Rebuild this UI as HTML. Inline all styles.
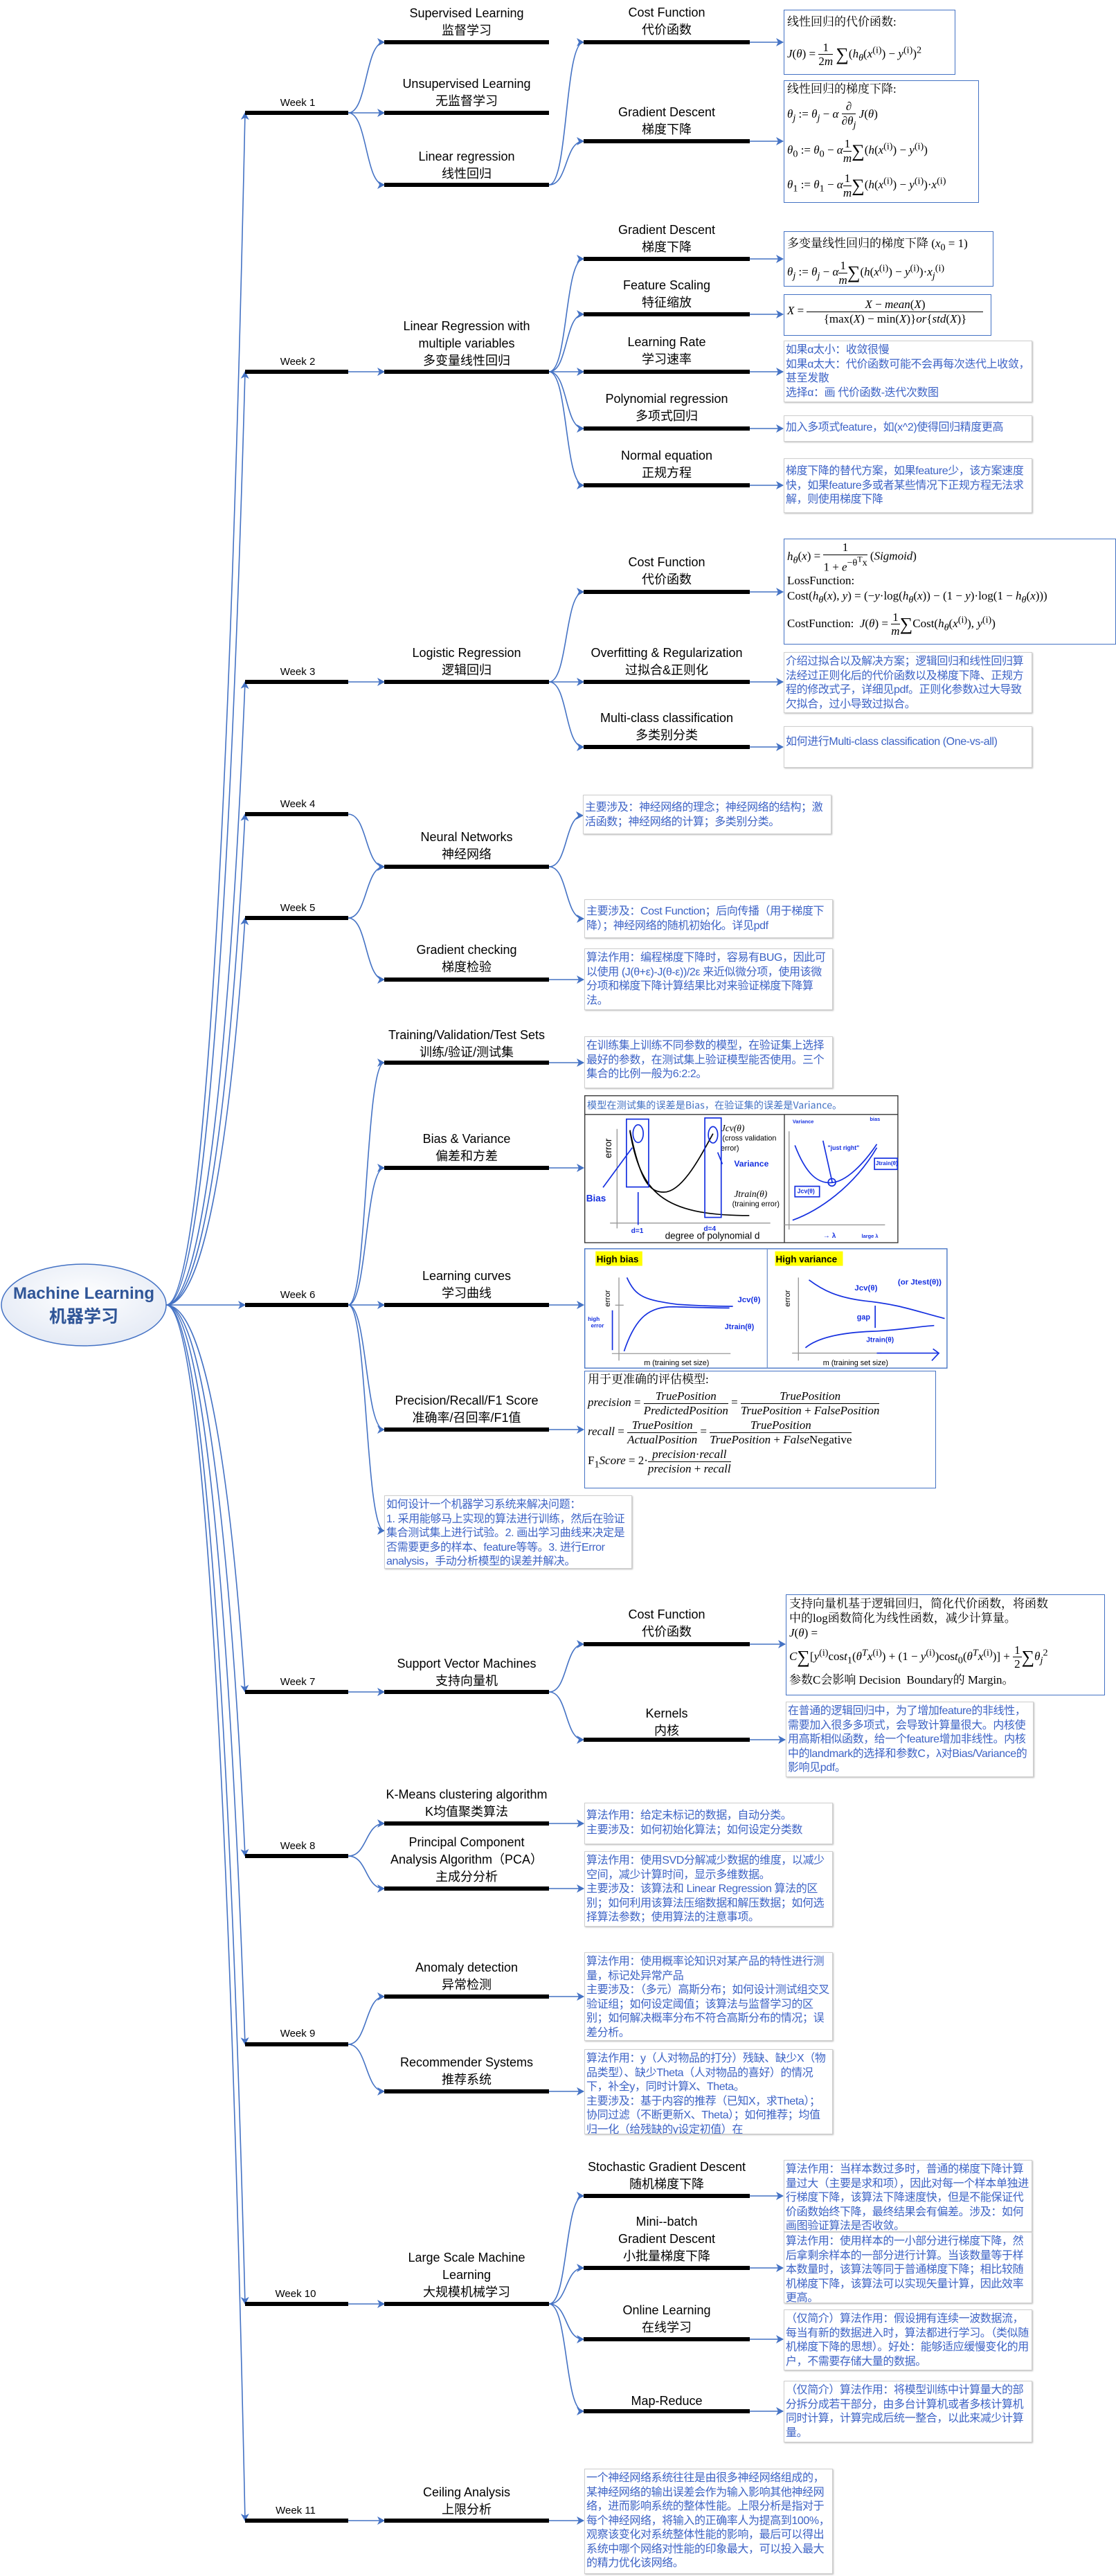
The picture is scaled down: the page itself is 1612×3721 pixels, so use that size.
<!DOCTYPE html>
<html><head><meta charset="utf-8">
<style>
*{margin:0;padding:0;box-sizing:border-box}
body{width:1612px;height:3721px;position:relative;background:#fff;font-family:"Liberation Sans","Noto Sans CJK SC",sans-serif;overflow:hidden}
.l{position:absolute;text-align:center;font-size:18px;line-height:25px;color:#000;white-space:nowrap}
.w{position:absolute;font-size:15px;color:#000;width:150px;text-align:center}
.bx{position:absolute;border:1px solid #cfcfcf;box-shadow:1px 1px 2px #bbb;color:#3d63c6;font-size:16px;letter-spacing:-0.4px;line-height:20.5px;padding:3px 2px;background:#fff;overflow:hidden;font-family:"Liberation Sans","Noto Sans CJK SC",sans-serif}
.fb{position:absolute;border:1.5px solid #4472c4;background:#fff;font-family:"Liberation Serif","Noto Serif CJK SC",serif;color:#000;font-size:17px;padding:2px 4px;overflow:hidden;white-space:nowrap}
.fb i{font-style:italic}
.fr{display:inline-flex;flex-direction:column;vertical-align:middle;text-align:center;line-height:1.15}
.fr>span:first-child{border-bottom:1px solid #000;padding:0 2px}
.big{font-size:26px;vertical-align:middle}
svg{position:absolute;left:0;top:0}
</style></head><body>

<svg width="1612" height="3721" viewBox="0 0 1612 3721">
<defs><marker id="a" markerUnits="userSpaceOnUse" markerWidth="11" markerHeight="12" refX="10" refY="6" orient="auto"><path d="M0,0 L11,6 L0,12 L3,6 z" fill="#4472c4"/></marker></defs>
<g fill="none" stroke="#4472c4" stroke-width="1.6" marker-end="url(#a)">
<path d="M240 1885 C320 1885 350 335 354 163"/>
<path d="M240 1885 C320 1885 350 672 354 537"/>
<path d="M240 1885 C320 1885 350 1075 354 985"/>
<path d="M240 1885 C320 1885 350 1247 354 1176"/>
<path d="M240 1885 C320 1885 350 1382 354 1326"/>
<path d="M240 1885 L354 1885"/>
<path d="M240 1885 C320 1885 350 2388 354 2444"/>
<path d="M240 1885 C320 1885 350 2601 354 2681"/>
<path d="M240 1885 C320 1885 350 2846 354 2953"/>
<path d="M240 1885 C320 1885 350 3184 354 3328"/>
<path d="M240 1885 C320 1885 350 3465 354 3641"/>

<path d="M503 163 C531 163 527 61 555 61"/>
<path d="M503 163 L555 163"/>
<path d="M503 163 C531 163 527 267 555 267"/>
<path d="M793 267 C821 267 815 61 843 61"/>
<path d="M793 267 C821 267 815 204 843 204"/>
<path d="M1083 61 L1131 61"/><path d="M1083 204 L1131 204"/>

<path d="M503 537 L555 537"/>
<path d="M793 537 C821 537 815 374 843 374"/>
<path d="M793 537 C821 537 815 454 843 454"/>
<path d="M793 537 L843 537"/>
<path d="M793 537 C821 537 815 619 843 619"/>
<path d="M793 537 C821 537 815 701 843 701"/>
<path d="M1083 374 L1131 374"/><path d="M1083 454 L1131 454"/><path d="M1083 537 L1131 537"/><path d="M1083 619 L1131 619"/><path d="M1083 701 L1131 701"/>

<path d="M503 985 L555 985"/>
<path d="M793 985 C821 985 815 855 843 855"/>
<path d="M793 985 L843 985"/>
<path d="M793 985 C821 985 815 1079 843 1079"/>
<path d="M1083 855 L1131 855"/><path d="M1083 985 L1131 985"/><path d="M1083 1079 L1131 1079"/>

<path d="M503 1176 C531 1176 527 1252 555 1252"/>
<path d="M503 1326 C531 1326 527 1252 555 1252"/>
<path d="M503 1326 C531 1326 527 1415 555 1415"/>
<path d="M793 1252 C821 1252 815 1178 842 1178"/>
<path d="M793 1252 C821 1252 815 1327 843 1327"/>
<path d="M793 1415 L843 1415"/>

<path d="M503 1885 C531 1885 527 1535 555 1535"/>
<path d="M503 1885 C531 1885 527 1687 555 1687"/>
<path d="M503 1885 L555 1885"/>
<path d="M503 1885 C531 1885 527 2065 555 2065"/>
<path d="M503 1885 C531 1885 527 2211 555 2211"/>
<path d="M793 1535 L843 1535"/><path d="M793 1687 L843 1687"/><path d="M793 1885 L843 1885"/><path d="M793 2065 L843 2065"/>

<path d="M503 2444 L555 2444"/>
<path d="M793 2444 C821 2444 815 2375 843 2375"/>
<path d="M793 2444 C821 2444 815 2513 843 2513"/>
<path d="M1083 2375 L1134 2375"/><path d="M1083 2513 L1134 2513"/>

<path d="M503 2681 C531 2681 527 2634 555 2634"/>
<path d="M503 2681 C531 2681 527 2728 555 2728"/>
<path d="M793 2634 L843 2634"/><path d="M793 2728 L843 2728"/>

<path d="M503 2953 C531 2953 527 2884 555 2884"/>
<path d="M503 2953 C531 2953 527 3021 555 3021"/>
<path d="M793 2884 L843 2884"/><path d="M793 3021 L843 3021"/>

<path d="M503 3328 L555 3328"/>
<path d="M793 3328 C821 3328 815 3172 843 3172"/>
<path d="M793 3328 C821 3328 815 3276 843 3276"/>
<path d="M793 3328 C821 3328 815 3379 843 3379"/>
<path d="M793 3328 C821 3328 815 3483 843 3483"/>
<path d="M1083 3172 L1131 3172"/><path d="M1083 3276 L1131 3276"/><path d="M1083 3379 L1131 3379"/><path d="M1083 3483 L1131 3483"/>

<path d="M503 3641 L555 3641"/>
<path d="M793 3641 L843 3641"/>
</g>
<g fill="#000">
<rect x="354" y="160" width="149" height="6"/><rect x="555" y="58" width="238" height="6"/><rect x="555" y="160" width="238" height="6"/><rect x="555" y="264" width="238" height="6"/>
<rect x="843" y="58" width="240" height="6"/><rect x="843" y="201" width="240" height="6"/>
<rect x="354" y="534" width="149" height="6"/><rect x="555" y="534" width="238" height="6"/>
<rect x="843" y="371" width="240" height="6"/><rect x="843" y="451" width="240" height="6"/><rect x="843" y="534" width="240" height="6"/><rect x="843" y="616" width="240" height="6"/><rect x="843" y="698" width="240" height="6"/>
<rect x="354" y="982" width="149" height="6"/><rect x="555" y="982" width="238" height="6"/>
<rect x="843" y="852" width="240" height="6"/><rect x="843" y="982" width="240" height="6"/><rect x="843" y="1076" width="240" height="6"/>
<rect x="354" y="1173" width="149" height="6"/><rect x="354" y="1323" width="149" height="6"/>
<rect x="555" y="1249" width="238" height="6"/><rect x="555" y="1412" width="238" height="6"/>
<rect x="354" y="1882" width="149" height="6"/>
<rect x="555" y="1532" width="238" height="6"/><rect x="555" y="1684" width="238" height="6"/><rect x="555" y="1882" width="238" height="6"/><rect x="555" y="2062" width="238" height="6"/>
<rect x="354" y="2441" width="149" height="6"/><rect x="555" y="2441" width="238" height="6"/>
<rect x="843" y="2372" width="240" height="6"/><rect x="843" y="2510" width="240" height="6"/>
<rect x="354" y="2678" width="149" height="6"/><rect x="555" y="2631" width="238" height="6"/><rect x="555" y="2725" width="238" height="6"/>
<rect x="354" y="2950" width="149" height="6"/><rect x="555" y="2881" width="238" height="6"/><rect x="555" y="3018" width="238" height="6"/>
<rect x="354" y="3325" width="149" height="6"/><rect x="555" y="3325" width="238" height="6"/>
<rect x="843" y="3169" width="240" height="6"/><rect x="843" y="3273" width="240" height="6"/><rect x="843" y="3376" width="240" height="6"/><rect x="843" y="3480" width="240" height="6"/>
<rect x="354" y="3638" width="149" height="6"/><rect x="555" y="3638" width="238" height="6"/>
</g>
<defs><radialGradient id="g" cx="50%" cy="40%" r="60%"><stop offset="0" stop-color="#ffffff"/><stop offset="1" stop-color="#e4eaf5"/></radialGradient></defs>
<ellipse cx="121" cy="1885" rx="119" ry="59" fill="url(#g)" stroke="#4472c4" stroke-width="1.5"/>
<text x="121" y="1876" text-anchor="middle" font-family="Liberation Sans,sans-serif" font-weight="bold" font-size="24" fill="#2f5597">Machine Learning</text>
<text x="121" y="1910" text-anchor="middle" font-family="Noto Sans CJK SC,sans-serif" font-weight="bold" font-size="25" fill="#2f5597">机器学习</text>
</svg>

<div class="w" style="left:355px;top:140px">Week 1</div>
<div class="w" style="left:355px;top:514px">Week 2</div>
<div class="w" style="left:355px;top:962px">Week 3</div>
<div class="w" style="left:355px;top:1153px">Week 4</div>
<div class="w" style="left:355px;top:1303px">Week 5</div>
<div class="w" style="left:355px;top:1862px">Week 6</div>
<div class="w" style="left:355px;top:2421px">Week 7</div>
<div class="w" style="left:355px;top:2658px">Week 8</div>
<div class="w" style="left:355px;top:2929px">Week 9</div>
<div class="w" style="left:352px;top:3305px">Week 10</div>
<div class="w" style="left:352px;top:3618px">Week 11</div>

<div class="l" style="left:540px;width:268px;top:7px">Supervised Learning<br>监督学习</div>
<div class="l" style="left:540px;width:268px;top:109px">Unsupervised Learning<br>无监督学习</div>
<div class="l" style="left:540px;width:268px;top:214px">Linear regression<br>线性回归</div>
<div class="l" style="left:540px;width:268px;top:459px">Linear Regression with<br>multiple variables<br>多变量线性回归</div>
<div class="l" style="left:540px;width:268px;top:931px">Logistic Regression<br>逻辑回归</div>
<div class="l" style="left:540px;width:268px;top:1197px">Neural Networks<br>神经网络</div>
<div class="l" style="left:540px;width:268px;top:1360px">Gradient checking<br>梯度检验</div>
<div class="l" style="left:530px;width:288px;top:1483px">Training/Validation/Test Sets<br>训练/验证/测试集</div>
<div class="l" style="left:540px;width:268px;top:1633px">Bias &amp; Variance<br>偏差和方差</div>
<div class="l" style="left:540px;width:268px;top:1831px">Learning curves<br>学习曲线</div>
<div class="l" style="left:540px;width:268px;top:2011px">Precision/Recall/F1 Score<br>准确率/召回率/F1值</div>
<div class="l" style="left:540px;width:268px;top:2391px">Support Vector Machines<br>支持向量机</div>
<div class="l" style="left:530px;width:288px;top:2580px">K-Means clustering algorithm<br>K均值聚类算法</div>
<div class="l" style="left:530px;width:288px;top:2649px">Principal Component<br>Analysis Algorithm（PCA）<br>主成分分析</div>
<div class="l" style="left:540px;width:268px;top:2830px">Anomaly detection<br>异常检测</div>
<div class="l" style="left:540px;width:268px;top:2967px">Recommender Systems<br>推荐系统</div>
<div class="l" style="left:540px;width:268px;top:3249px">Large Scale Machine<br>Learning<br>大规模机械学习</div>
<div class="l" style="left:540px;width:268px;top:3588px">Ceiling Analysis<br>上限分析</div>

<div class="l" style="left:828px;width:270px;top:6px">Cost Function<br>代价函数</div>
<div class="l" style="left:828px;width:270px;top:150px">Gradient Descent<br>梯度下降</div>
<div class="l" style="left:828px;width:270px;top:320px">Gradient Descent<br>梯度下降</div>
<div class="l" style="left:828px;width:270px;top:400px">Feature Scaling<br>特征缩放</div>
<div class="l" style="left:828px;width:270px;top:482px">Learning Rate<br>学习速率</div>
<div class="l" style="left:828px;width:270px;top:564px">Polynomial regression<br>多项式回归</div>
<div class="l" style="left:828px;width:270px;top:646px">Normal equation<br>正规方程</div>
<div class="l" style="left:828px;width:270px;top:800px">Cost Function<br>代价函数</div>
<div class="l" style="left:818px;width:290px;top:931px">Overfitting &amp; Regularization<br>过拟合&amp;正则化</div>
<div class="l" style="left:828px;width:270px;top:1025px">Multi-class classification<br>多类别分类</div>
<div class="l" style="left:828px;width:270px;top:2320px">Cost Function<br>代价函数</div>
<div class="l" style="left:828px;width:270px;top:2463px">Kernels<br>内核</div>
<div class="l" style="left:818px;width:290px;top:3118px">Stochastic Gradient Descent<br>随机梯度下降</div>
<div class="l" style="left:828px;width:270px;top:3197px">Mini--batch<br>Gradient Descent<br>小批量梯度下降</div>
<div class="l" style="left:828px;width:270px;top:3325px">Online Learning<br>在线学习</div>
<div class="l" style="left:828px;width:270px;top:3456px">Map-Reduce</div>

<div class="fb" style="left:1132px;top:14px;width:248px;height:94px">线性回归的代价函数:<br><span style="line-height:60px"><i>J</i>(<i>θ</i>) = <span class="fr"><span>1</span><span>2<i>m</i></span></span> <span class="big">∑</span>(<i>h<sub>θ</sub></i>(<i>x</i><sup>(i)</sup>) − <i>y</i><sup>(i)</sup>)<sup>2</sup></span></div>
<div class="fb" style="left:1132px;top:116px;width:282px;height:177px;line-height:19px">线性回归的梯度下降:<br>
<div style="margin-top:6px"><i>θ<sub>j</sub></i> := <i>θ<sub>j</sub></i> − <i>α</i> <span class="fr"><span>∂</span><span>∂<i>θ<sub>j</sub></i></span></span> <i>J</i>(<i>θ</i>)</div>
<div style="margin-top:10px"><i>θ</i><sub>0</sub> := <i>θ</i><sub>0</sub> − <i>α</i><span class="fr"><span>1</span><span><i>m</i></span></span><span class="big">∑</span>(<i>h</i>(<i>x</i><sup>(i)</sup>) − <i>y</i><sup>(i)</sup>)</div>
<div style="margin-top:10px"><i>θ</i><sub>1</sub> := <i>θ</i><sub>1</sub> − <i>α</i><span class="fr"><span>1</span><span><i>m</i></span></span><span class="big">∑</span>(<i>h</i>(<i>x</i><sup>(i)</sup>) − <i>y</i><sup>(i)</sup>)·<i>x</i><sup>(i)</sup></div></div>
<div class="fb" style="left:1132px;top:334px;width:303px;height:80px">多变量线性回归的梯度下降 (<i>x</i><sub>0</sub> = 1)<br><div style="margin-top:8px"><i>θ<sub>j</sub></i> := <i>θ<sub>j</sub></i> − <i>α</i><span class="fr"><span>1</span><span><i>m</i></span></span><span class="big">∑</span>(<i>h</i>(<i>x</i><sup>(i)</sup>) − <i>y</i><sup>(i)</sup>)·<i>x<sub>j</sub></i><sup>(i)</sup></div></div>
<div class="fb" style="left:1132px;top:425px;width:300px;height:60px;padding-top:4px"><i>X</i> = <span class="fr" style="width:255px"><span><i>X</i> − <i>mean</i>(<i>X</i>)</span><span>{max(<i>X</i>) − min(<i>X</i>)}<i>or</i>{<i>std</i>(<i>X</i>)}</span></span></div>
<div class="fb" style="left:1132px;top:778px;width:480px;height:153px;line-height:22px;font-size:17px">
<div><i>h<sub>θ</sub></i>(<i>x</i>) = <span class="fr"><span>1</span><span>1 + <i>e</i><sup>−θ<sup>T</sup>x</sup></span></span> (<i>Sigmoid</i>)</div>
<div>LossFunction:</div>
<div>Cost(<i>h<sub>θ</sub></i>(<i>x</i>), <i>y</i>) = (−<i>y</i>·log(<i>h<sub>θ</sub></i>(<i>x</i>)) − (1 − <i>y</i>)·log(1 − <i>h<sub>θ</sub></i>(<i>x</i>)))</div>
<div style="margin-top:4px">CostFunction: &nbsp;<i>J</i>(<i>θ</i>) = <span class="fr"><span>1</span><span><i>m</i></span></span><span class="big">∑</span>Cost(<i>h<sub>θ</sub></i>(<i>x</i><sup>(i)</sup>), <i>y</i><sup>(i)</sup>)</div></div>
<div class="fb" style="left:1135px;top:2303px;width:461px;height:146px;line-height:21px">支持向量机基于逻辑回归，简化代价函数，将函数<br>中的log函数简化为线性函数，减少计算量。<br><i>J</i>(<i>θ</i>) =<br><span style="line-height:36px"><i>C</i><span class="big">∑</span>[<i>y</i><sup>(i)</sup>cos<i>t</i><sub>1</sub>(<i>θ<sup>T</sup>x</i><sup>(i)</sup>) + (1 − <i>y</i><sup>(i)</sup>)cos<i>t</i><sub>0</sub>(<i>θ<sup>T</sup>x</i><sup>(i)</sup>)] + <span class="fr"><span>1</span><span>2</span></span><span class="big">∑</span><i>θ<sub>j</sub></i><sup>2</sup></span><br>参数C会影响 Decision &nbsp;Boundary的 Margin。</div>
<div class="fb" style="left:844px;top:1980px;width:508px;height:170px;line-height:20px;border-color:#4472c4">
<div>用于更准确的评估模型:</div>
<div style="margin-top:4px"><i>precision</i> = <span class="fr"><span><i>TruePosition</i></span><span><i>PredictedPosition</i></span></span> = <span class="fr"><span><i>TruePosition</i></span><span><i>TruePosition</i> + <i>FalsePosition</i></span></span></div>
<div style="margin-top:2px"><i>recall</i> = <span class="fr"><span><i>TruePosition</i></span><span><i>ActualPosition</i></span></span> = <span class="fr"><span><i>TruePosition</i></span><span><i>TruePosition</i> + <i>False</i>Negative</span></span></div>
<div style="margin-top:2px">F<sub>1</sub><i>Score</i> = 2·<span class="fr"><span><i>precision</i>·<i>recall</i></span><span><i>precision</i> + <i>recall</i></span></span></div></div>

<div class="bx" style="left:1132px;top:492px;width:359px;height:89px">如果α太小：收敛很慢<br>如果α太大：代价函数可能不会再每次迭代上收敛，甚至发散<br>选择α：画 代价函数-迭代次数图</div>
<div class="bx" style="left:1132px;top:600px;width:359px;height:38px;padding-top:7px">加入多项式feature，如(x^2)使得回归精度更高</div>
<div class="bx" style="left:1132px;top:662px;width:359px;height:79px;padding-top:8px">梯度下降的替代方案，如果feature少，该方案速度快，如果feature多或者某些情况下正规方程无法求解，则使用梯度下降</div>
<div class="bx" style="left:1132px;top:942px;width:359px;height:88px">介绍过拟合以及解决方案；逻辑回归和线性回归算法经过正则化后的代价函数以及梯度下降、正规方程的修改式子，详细见pdf。正则化参数λ过大导致欠拟合，过小导致过拟合。</div>
<div class="bx" style="left:1132px;top:1049px;width:359px;height:60px;padding-top:12px">如何进行Multi-class classification (One-vs-all)</div>
<div class="bx" style="left:842px;top:1148px;width:359px;height:57px;padding-top:8px">主要涉及：神经网络的理念；神经网络的结构；激活函数；神经网络的计算；多类别分类。</div>
<div class="bx" style="left:844px;top:1299px;width:359px;height:56px;padding-top:7px">主要涉及：Cost Function；后向传播（用于梯度下降）；神经网络的随机初始化。详见pdf</div>
<div class="bx" style="left:844px;top:1370px;width:359px;height:89px">算法作用：编程梯度下降时，容易有BUG，因此可以使用 (J(θ+ε)-J(θ-ε))/2ε 来近似微分项，使用该微分项和梯度下降计算结果比对来验证梯度下降算法。</div>
<div class="bx" style="left:844px;top:1497px;width:359px;height:75px">在训练集上训练不同参数的模型，在验证集上选择最好的参数，在测试集上验证模型能否使用。三个集合的比例一般为6:2:2。</div>
<div class="bx" style="left:555px;top:2160px;width:358px;height:106px">如何设计一个机器学习系统来解决问题：<br>1. 采用能够马上实现的算法进行训练，然后在验证集合测试集上进行试验。2. 画出学习曲线来决定是否需要更多的样本、feature等等。3. 进行Error analysis，手动分析模型的误差并解决。</div>
<div class="bx" style="left:1135px;top:2458px;width:358px;height:109px">在普通的逻辑回归中，为了增加feature的非线性，需要加入很多多项式，会导致计算量很大。内核使用高斯相似函数，给一个feature增加非线性。内核中的landmark的选择和参数C，λ对Bias/Variance的影响见pdf。</div>
<div class="bx" style="left:844px;top:2604px;width:359px;height:60px;padding-top:8px">算法作用：给定未标记的数据，自动分类。<br>主要涉及：如何初始化算法；如何设定分类数</div>
<div class="bx" style="left:844px;top:2674px;width:359px;height:109px">算法作用：使用SVD分解减少数据的维度，以减少空间，减少计算时间，显示多维数据。<br>主要涉及：该算法和 Linear Regression 算法的区别；如何利用该算法压缩数据和解压数据；如何选择算法参数；使用算法的注意事项。</div>
<div class="bx" style="left:844px;top:2820px;width:359px;height:128px">算法作用：使用概率论知识对某产品的特性进行测量，标记处异常产品<br>主要涉及：（多元）高斯分布；如何设计测试组交叉验证组；如何设定阈值；该算法与监督学习的区别；如何解决概率分布不符合高斯分布的情况；误差分析。</div>
<div class="bx" style="left:844px;top:2960px;width:359px;height:123px">算法作用：y（人对物品的打分）残缺、缺少X（物品类型）、缺少Theta（人对物品的喜好）的情况下，补全y，同时计算X、Theta。<br>主要涉及：基于内容的推荐（已知X，求Theta）；协同过滤（不断更新X、Theta）；如何推荐；均值归一化（给残缺的y设定初值）在</div>
<div class="bx" style="left:1132px;top:3120px;width:359px;height:104px">算法作用：当样本数过多时，普通的梯度下降计算量过大（主要是求和项），因此对每一个样本单独进行梯度下降，该算法下降速度快，但是不能保证代价函数始终下降，最终结果会有偏差。涉及：如何画图验证算法是否收敛。</div>
<div class="bx" style="left:1132px;top:3224px;width:359px;height:103px">算法作用：使用样本的一小部分进行梯度下降，然后拿剩余样本的一部分进行计算。当该数量等于样本数量时，该算法等同于普通梯度下降；相比较随机梯度下降，该算法可以实现矢量计算，因此效率更高。</div>
<div class="bx" style="left:1132px;top:3336px;width:359px;height:88px">（仅简介）算法作用：假设拥有连续一波数据流，每当有新的数据进入时，算法都进行学习。（类似随机梯度下降的思想）。好处：能够适应缓慢变化的用户，不需要存储大量的数据。</div>
<div class="bx" style="left:1132px;top:3439px;width:359px;height:89px">（仅简介）算法作用：将模型训练中计算量大的部分拆分成若干部分，由多台计算机或者多核计算机同时计算，计算完成后统一整合，以此来减少计算量。</div>
<div class="bx" style="left:844px;top:3566px;width:359px;height:152px">一个神经网络系统往往是由很多神经网络组成的，某神经网络的输出误差会作为输入影响其他神经网络，进而影响系统的整体性能。上限分析是指对于每个神经网络，将输入的正确率人为提高到100%，观察该变化对系统整体性能的影响，最后可以得出系统中哪个网络对性能的印象最大，可以投入最大的精力优化该网络。</div>

<svg style="left:844px;top:1580px" width="530" height="400" viewBox="0 0 1568 1183">
<rect x="2" y="8" width="1338" height="628" fill="#fff" stroke="#333" stroke-width="4"/>
<line x1="2" y1="88" x2="1340" y2="88" stroke="#333" stroke-width="4"/>
<line x1="855" y1="88" x2="855" y2="636" stroke="#333" stroke-width="4"/>
<text x="12" y="64" font-family="Noto Sans CJK SC,sans-serif" font-size="42" fill="#4472c4">模型在测试集的误差是Bias，在验证集的误差是Variance。</text>
<g stroke="#999" stroke-width="4" fill="none"><path d="M140 150 V575 M110 552 H795 M875 160 V580 M855 560 H1285"/></g>
<g stroke="#000" stroke-width="5" fill="none"><path d="M195 155 C240 380 280 420 340 420 C420 420 500 260 550 170"/><path d="M195 160 C240 420 330 520 705 520"/></g>
<g font-family="Liberation Sans,sans-serif" fill="#000"><text x="115" y="275" font-size="40" transform="rotate(-90 115 275)">error</text><text x="345" y="620" font-size="40">degree of polynomial d</text><text x="590" y="200" font-size="32">(cross validation</text><text x="583" y="242" font-size="32">error)</text><text x="632" y="480" font-size="32">(training error)</text><text x="585" y="160" font-size="40" font-style="italic" font-family="Liberation Serif,serif">Jcv(θ)</text><text x="640" y="440" font-size="40" font-style="italic" font-family="Liberation Serif,serif">Jtrain(θ)</text></g>
<g stroke="#1530e0" stroke-width="5" fill="none"><rect x="180" y="108" width="95" height="290"/><rect x="515" y="103" width="70" height="425"/><ellipse cx="230" cy="170" rx="22" ry="38"/><ellipse cx="550" cy="175" rx="20" ry="35"/><path d="M80 400 L205 230 M590 300 L570 250 M900 220 C950 350 1000 380 1050 380 C1120 380 1200 290 1250 215 M890 540 C1000 500 1150 400 1250 230 M1020 200 L1060 380 M230 560 V420"/><circle cx="1058" cy="378" r="16"/><rect x="900" y="395" width="105" height="45"/><rect x="1240" y="275" width="98" height="48"/></g>
<g font-family="Liberation Sans,sans-serif" fill="#1530e0" font-weight="bold"><text x="8" y="460" font-size="40">Bias</text><text x="640" y="310" font-size="36">Variance</text><text x="200" y="595" font-size="30">d=1</text><text x="510" y="585" font-size="30">d=4</text><text x="890" y="125" font-size="22">Variance</text><text x="1220" y="115" font-size="22">bias</text><text x="1040" y="240" font-size="26">"just right"</text><text x="910" y="425" font-size="26">Jcv(θ)</text><text x="1245" y="305" font-size="24">Jtrain(θ)</text><text x="1020" y="615" font-size="30">→ λ</text><text x="1185" y="615" font-size="22">large λ</text></g>

<rect x="2" y="662" width="1548" height="510" fill="none" stroke="#4472c4" stroke-width="4"/>
<line x1="782" y1="662" x2="782" y2="1172" stroke="#7a99d0" stroke-width="4"/>
<rect x="48" y="673" width="200" height="62" fill="#ffff00"/><rect x="815" y="673" width="290" height="62" fill="#ffff00"/>
<text x="52" y="720" font-family="Liberation Sans,sans-serif" font-weight="bold" font-size="40">High bias</text>
<text x="818" y="720" font-family="Liberation Sans,sans-serif" font-weight="bold" font-size="40">High variance</text>
<g stroke="#999" stroke-width="4" fill="none"><path d="M148 785 V1140 M118 1110 H625 M915 785 V1140 M888 1108 H1270 M132 903 H168"/></g>
<g font-family="Liberation Sans,sans-serif" fill="#000"><text x="110" y="910" font-size="34" transform="rotate(-90 110 910)">error</text><text x="878" y="910" font-size="34" transform="rotate(-90 878 910)">error</text><text x="255" y="1160" font-size="32">m (training set size)</text><text x="1020" y="1160" font-size="32">m (training set size)</text></g>
<g stroke="#1530e0" stroke-width="5" fill="none"><path d="M182 785 C220 870 260 880 400 900 C480 905 550 908 635 908"/><path d="M170 1100 C220 950 280 910 380 910 C470 912 550 915 620 915"/><path d="M960 795 C1020 840 1080 870 1200 885 C1350 900 1420 930 1540 960"/><path d="M945 1085 C1000 1040 1100 1020 1230 1015 C1350 1010 1420 995 1495 990"/><path d="M1243 905 V1000 M1250 1108 H1510 M1490 1090 L1515 1108 L1485 1140 M120 1095 V925"/></g>
<g font-family="Liberation Sans,sans-serif" fill="#1530e0" font-weight="bold"><text x="655" y="890" font-size="34">Jcv(θ)</text><text x="600" y="1005" font-size="32">Jtrain(θ)</text><text x="15" y="970" font-size="24">high</text><text x="28" y="998" font-size="24">error</text><text x="1155" y="840" font-size="34">Jcv(θ)</text><text x="1340" y="815" font-size="34">(or Jtest(θ))</text><text x="1165" y="965" font-size="32">gap</text><text x="1205" y="1060" font-size="30">Jtrain(θ)</text></g>
</svg>
</body></html>
